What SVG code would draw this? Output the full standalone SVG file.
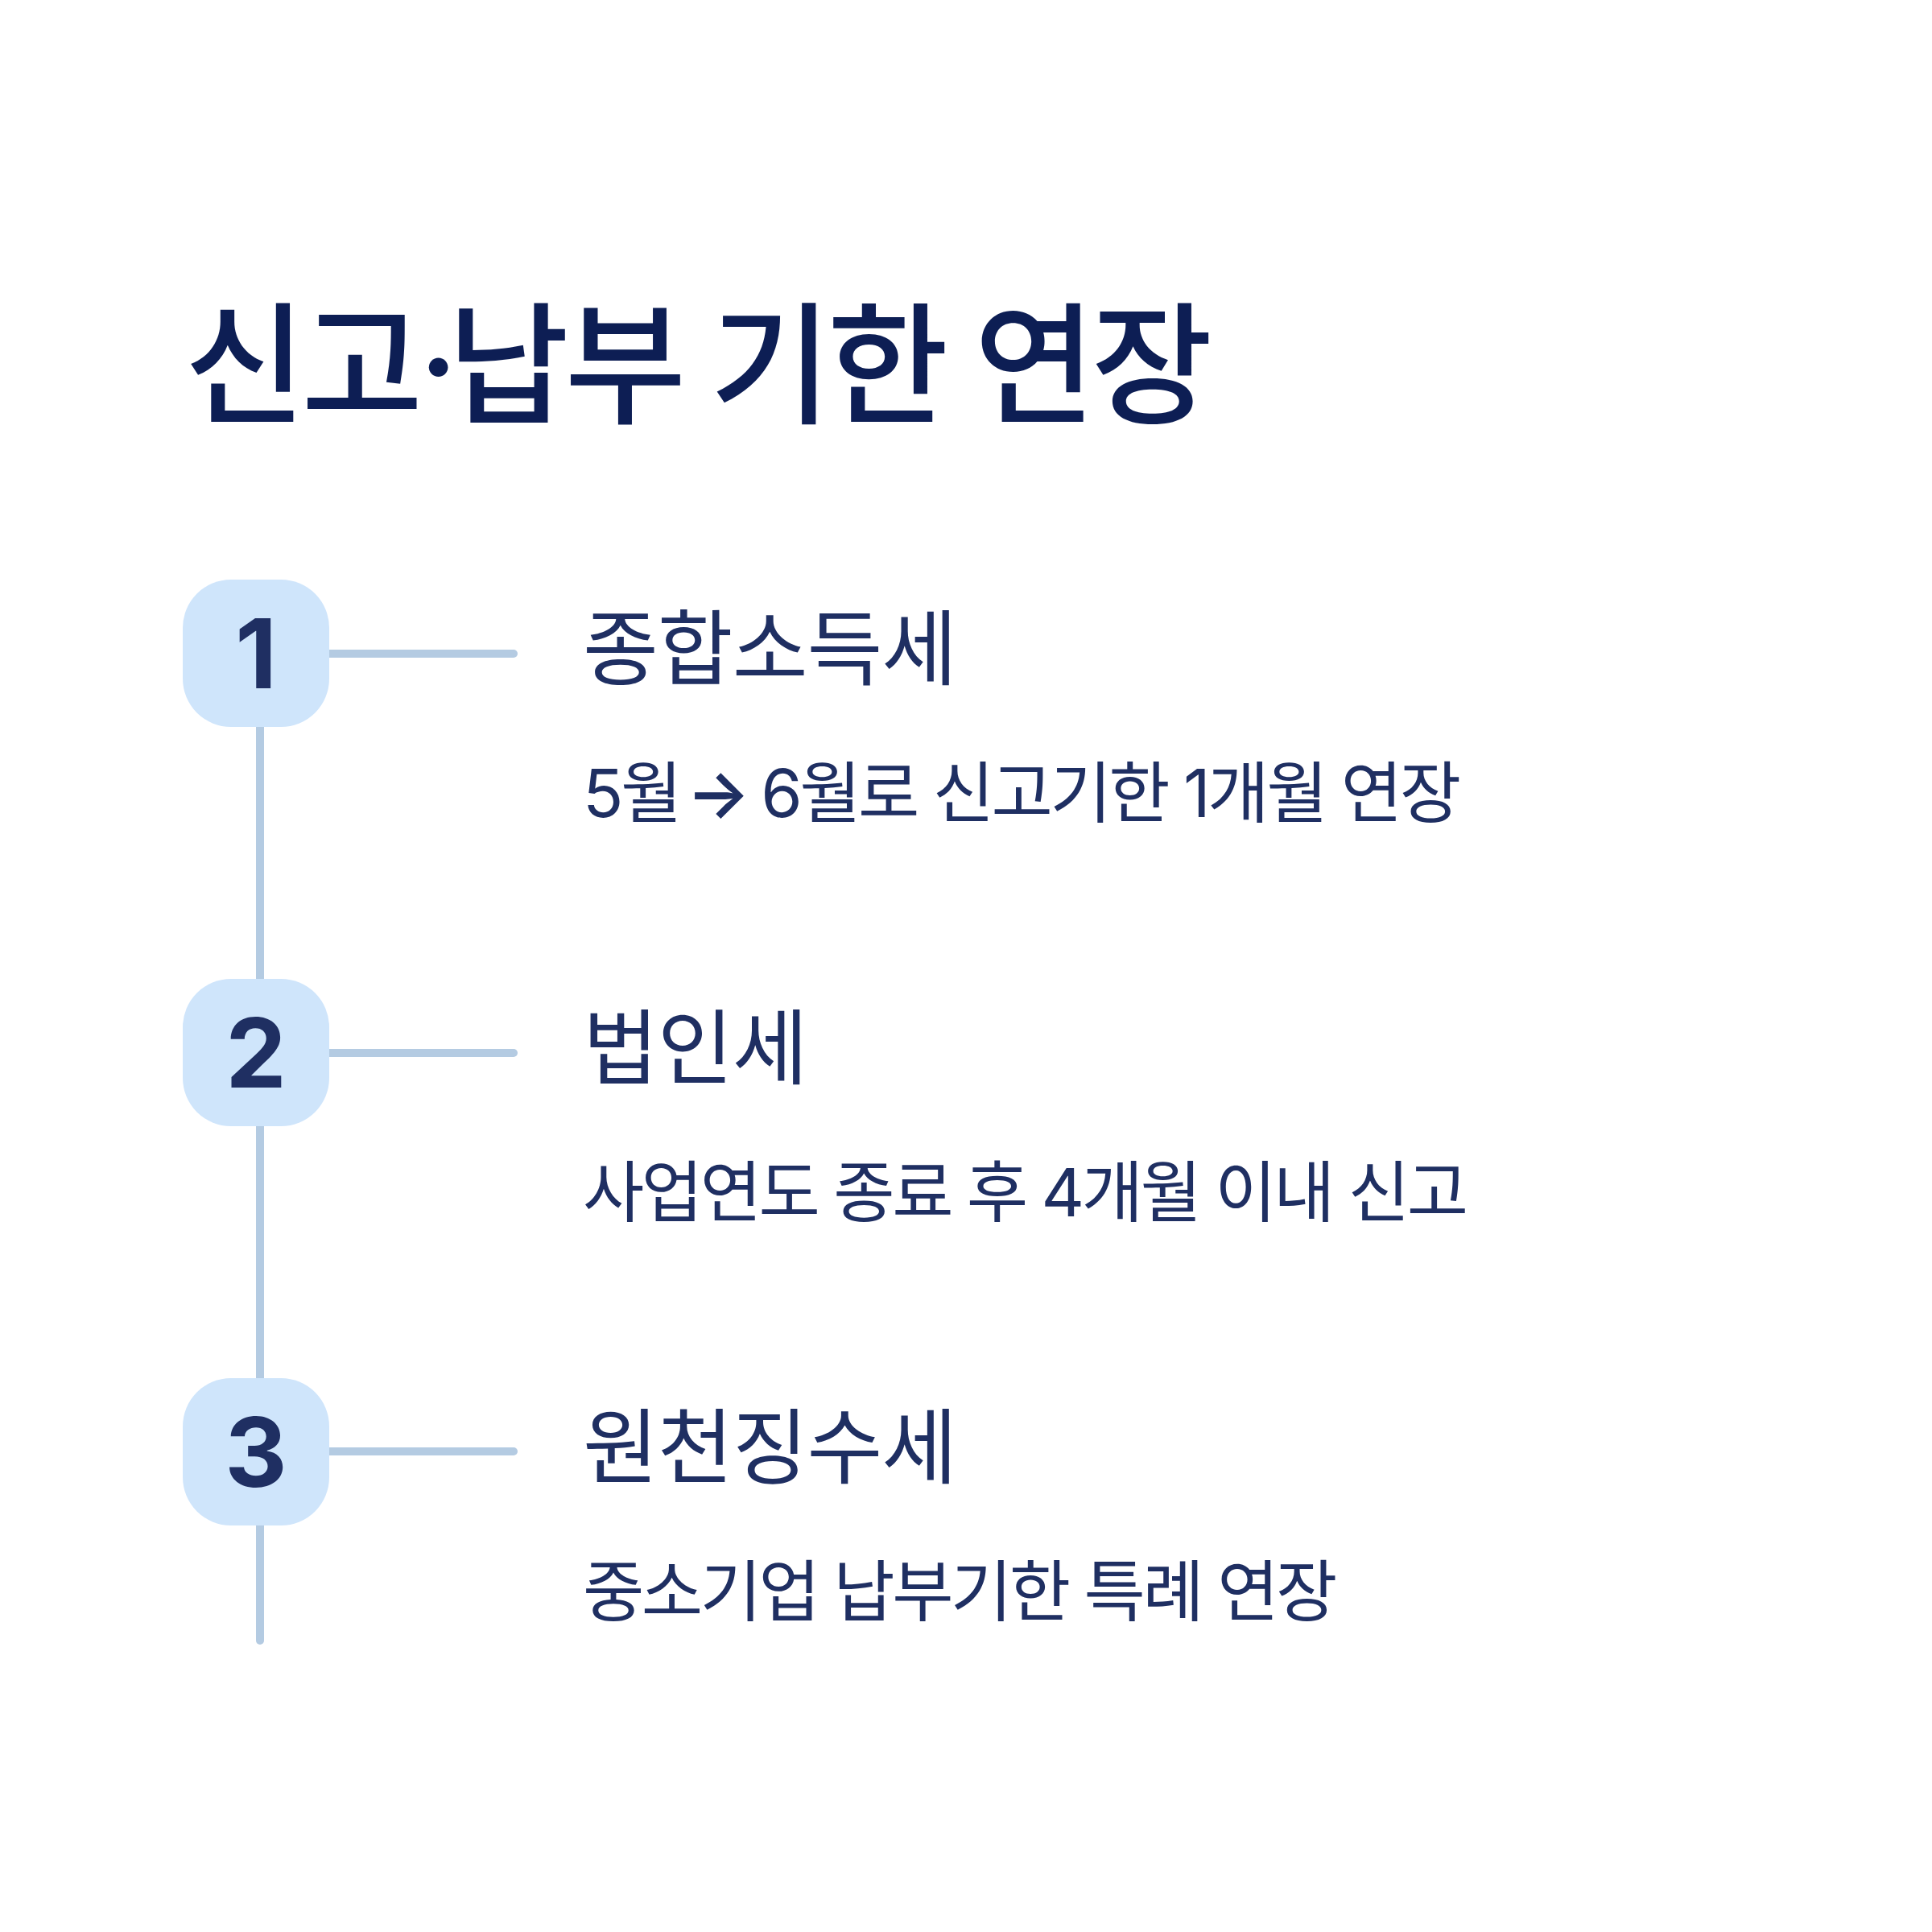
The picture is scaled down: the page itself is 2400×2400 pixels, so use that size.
<svg xmlns="http://www.w3.org/2000/svg" width="2400" height="2400" viewBox="0 0 2400 2400">
<style>
.title{font-family:"Inter","Noto Sans CJK KR",sans-serif;font-size:164px;font-weight:500;fill:#0d1e54;letter-spacing:-5.5px}
.head{font-family:"Noto Sans CJK KR",sans-serif;font-size:102px;font-weight:400;fill:#1f2f62;letter-spacing:-1px}
.sub{font-family:"Inter","Noto Sans CJK KR",sans-serif;font-size:83px;font-weight:400;fill:#1f2f62;letter-spacing:-3.5px}
.arr{font-weight:600}
.num{font-family:"Inter","Liberation Sans",sans-serif;font-size:120px;font-weight:700;fill:#1f2f62;text-anchor:middle}
.box{fill:#cfe5fb}
.ln{stroke:#b4cbe2;stroke-width:10;stroke-linecap:round;fill:none}
</style>
<rect width="2400" height="2400" fill="#ffffff"/>
<text class="title" y="513"><tspan x="229">신고·</tspan><tspan x="556">납부</tspan><tspan x="882">기한</tspan><tspan x="1210">연장</tspan></text>
<g id="connectors">
<line class="ln" x1="323" y1="811" x2="323" y2="2038"/>
<line class="ln" x1="400" y1="812" x2="638" y2="812"/>
<line class="ln" x1="400" y1="1308" x2="638" y2="1308"/>
<line class="ln" x1="400" y1="1803" x2="638" y2="1803"/>
</g>
<g id="node1">
<rect class="box" x="227" y="720" width="182" height="183" rx="60"/>
<text class="num" x="318" y="855">1</text>
<text class="head" x="724" y="843">종합소득세</text>
<text class="sub" x="724" y="1015">5월<tspan dx="-11"> </tspan><tspan class="arr">→</tspan><tspan dx="-3"> 6월로 신고기한 1개월 연장</tspan></text>
</g>
<g id="node2">
<rect class="box" x="227" y="1216" width="182" height="183" rx="60"/>
<text class="num" x="318" y="1351">2</text>
<text class="head" x="724" y="1339">법인세</text>
<text class="sub" x="724" y="1511">사업연도 종료 후 4개월 이내 신고</text>
</g>
<g id="node3">
<rect class="box" x="227" y="1712" width="182" height="183" rx="60"/>
<text class="num" x="318" y="1847">3</text>
<text class="head" x="724" y="1835">원천징수세</text>
<text class="sub" x="724" y="2007">중소기업 납부기한 특례 연장</text>
</g>
</svg>
